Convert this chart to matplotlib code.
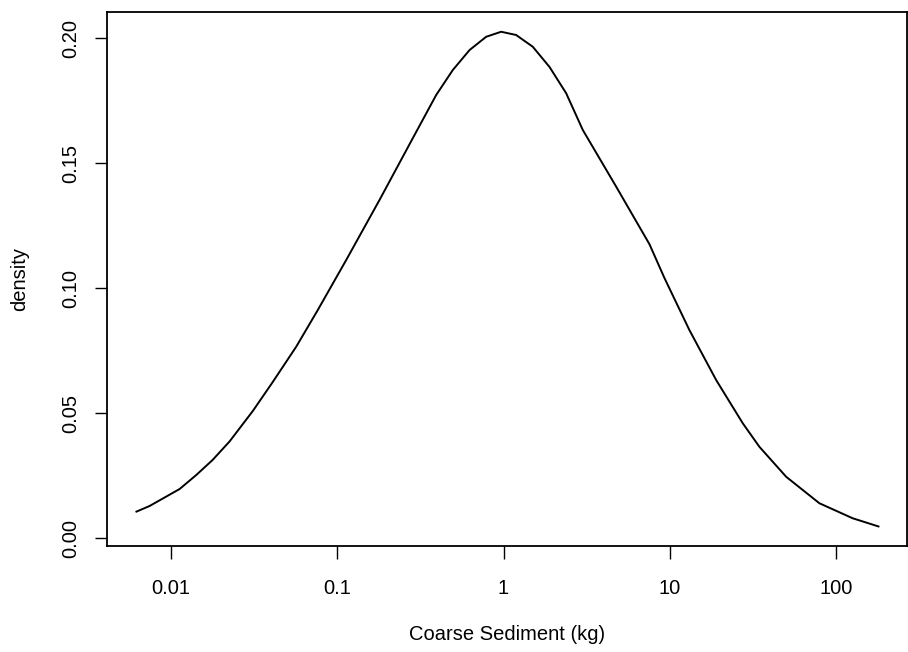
import numpy as np
import matplotlib
matplotlib.use("Agg")
import matplotlib.pyplot as plt
from matplotlib.ticker import FixedLocator, NullLocator

# Data (x in kg, log-scaled axis; y = density)
sediment_kg = [0.00612, 0.00743, 0.00893, 0.01127, 0.01419, 0.01778, 0.02249,
               0.03105, 0.04102, 0.05662, 0.07638, 0.1132, 0.1795, 0.2851,
               0.3936, 0.4955, 0.6252, 0.7870, 0.9683, 1.191, 1.500, 1.892,
               2.382, 2.999, 4.764, 7.551, 9.290, 13.12, 19.01, 27.48, 34.59,
               50.12, 79.43, 125.9, 182.4]
density = [0.0104, 0.0128, 0.0158, 0.0196, 0.0252, 0.0312, 0.0386,
           0.0508, 0.0625, 0.0765, 0.0912, 0.1112, 0.1352, 0.1600,
           0.1772, 0.1872, 0.1952, 0.2005, 0.2025, 0.2012, 0.1965, 0.1884,
           0.1779, 0.1632, 0.1405, 0.1175, 0.1040, 0.0832, 0.0632, 0.0459, 0.0365,
           0.0245, 0.0139, 0.0079, 0.0045]

x_ticks = [0.01, 0.1, 1, 10, 100]
x_tick_labels = ["0.01", "0.1", "1", "10", "100"]
y_ticks = [0.00, 0.05, 0.10, 0.15, 0.20]
y_tick_labels = ["0.00", "0.05", "0.10", "0.15", "0.20"]

plt.rcParams['font.family'] = ['Liberation Sans', 'DejaVu Sans']

W, H = 908, 652
fig = plt.figure(figsize=(W / 100, H / 100), dpi=100)
left, right, top, bottom = 107, 907, 12, 546
ax = fig.add_axes([left / W, 1 - bottom / H, (right - left) / W, (bottom - top) / H])

ax.plot(sediment_kg, density, color='black', linewidth=1.4,
        solid_joinstyle='round', solid_capstyle='butt')
ax.set_xscale('log')
ax.set_xlim(10 ** -2.385, 10 ** 2.427)
ax.set_ylim(-0.0032, 0.2104)

ax.xaxis.set_major_locator(FixedLocator(x_ticks))
ax.set_xticklabels(x_tick_labels)
ax.xaxis.set_minor_locator(NullLocator())
ax.set_yticks(y_ticks)
ax.set_yticklabels(y_tick_labels, rotation=90, va='center')

ax.tick_params(axis='both', direction='out', length=9, width=1.0, labelsize=14.5, color='black')
ax.tick_params(axis='x', pad=15)
ax.tick_params(axis='y', pad=10.5)

for s in ax.spines.values():
    s.set_linewidth(1.3)
    s.set_color('black')

ax.set_xlabel("Coarse Sediment (kg)", fontsize=14.5, labelpad=19)
ax.set_ylabel("density", fontsize=14.5, labelpad=23)

fig.savefig("out.png", dpi=100, facecolor='white')
